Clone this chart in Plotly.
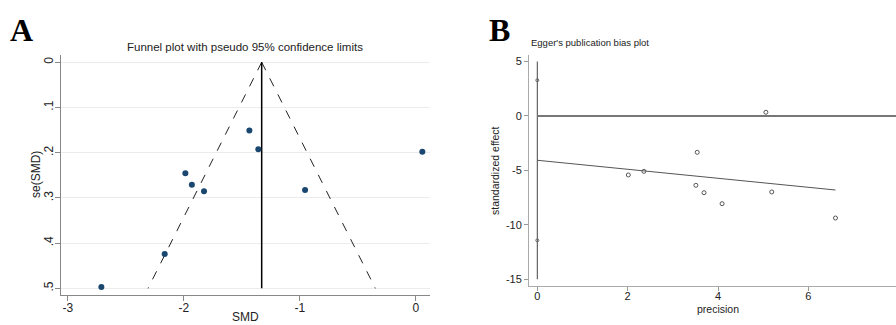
import plotly.graph_objects as go

# ---- Panel A: funnel plot data ----
smd = [-2.71, -2.164, -1.986, -1.93, -1.825, -1.434, -1.357, -0.954, 0.057]
se_smd = [0.497, 0.424, 0.2456, 0.271, 0.285, 0.151, 0.1925, 0.2825, 0.198]
pooled_smd = -1.328
funnel_se = [0.0, 0.5]
a_yticks = [0, 0.1, 0.2, 0.3, 0.4, 0.5]
a_yticklabels = ["0", ".1", ".2", ".3", ".4", ".5"]
a_xticks = [-3, -2, -1, 0]
a_xticklabels = ["-3", "-2", "-1", "0"]

# ---- Panel B: Egger plot data ----
egger_precision = [2.015, 2.36, 3.54, 3.51, 3.69, 4.09, 5.06, 5.19, 6.60]
egger_effect = [-5.42, -5.09, -3.34, -6.37, -7.05, -8.06, 0.34, -6.98, -9.375]
intercept_ci = [3.28, -11.43]
intercept_bar = [-15, 5]
reg_intercept = -4.07
reg_slope = -0.414
reg_x = [0.0, 6.60]
b_xticks = [0, 2, 4, 6, 8]
b_xticklabels = ["0", "2", "4", "6", "8"]
b_yticks = [5, 0, -5, -10, -15]
b_yticklabels = ["5", "0", "-5", "-10", "-15"]

FONT = "Liberation Sans, Arial, sans-serif"
W, H = 896, 325

def px(x):
    return x / W

def py(y):
    return 1 - y / H

fig = go.Figure()

# Panel A traces
left_x = [pooled_smd - 1.96 * s for s in funnel_se]
right_x = [pooled_smd + 1.96 * s for s in funnel_se]
fig.add_trace(go.Scatter(x=left_x, y=funnel_se, mode="lines",
                         line=dict(color="#222222", width=1, dash="dash"),
                         xaxis="x", yaxis="y", hoverinfo="skip"))
fig.add_trace(go.Scatter(x=right_x, y=funnel_se, mode="lines",
                         line=dict(color="#222222", width=1, dash="dash"),
                         xaxis="x", yaxis="y", hoverinfo="skip"))
fig.add_trace(go.Scatter(x=[pooled_smd, pooled_smd], y=funnel_se, mode="lines",
                         line=dict(color="#000000", width=1.5),
                         xaxis="x", yaxis="y", hoverinfo="skip"))
fig.add_trace(go.Scatter(x=smd, y=se_smd, mode="markers",
                         marker=dict(color="#1a476f", size=6),
                         xaxis="x", yaxis="y"))

# Panel B traces
fig.add_trace(go.Scatter(x=[0, 0], y=intercept_bar, mode="lines",
                         line=dict(color="#444444", width=1),
                         xaxis="x2", yaxis="y2", hoverinfo="skip"))
fig.add_trace(go.Scatter(x=[0, 8.2], y=[0, 0], mode="lines",
                         line=dict(color="#777777", width=2),
                         xaxis="x2", yaxis="y2", hoverinfo="skip"))
fig.add_trace(go.Scatter(x=reg_x, y=[reg_intercept + reg_slope * v for v in reg_x],
                         mode="lines", line=dict(color="#555555", width=1),
                         xaxis="x2", yaxis="y2", hoverinfo="skip"))
fig.add_trace(go.Scatter(x=[0, 0], y=intercept_ci, mode="markers",
                         marker=dict(symbol="circle-open", color="#666666", size=3),
                         xaxis="x2", yaxis="y2"))
fig.add_trace(go.Scatter(x=egger_precision, y=egger_effect, mode="markers",
                         marker=dict(symbol="circle-open", color="#555555", size=4,
                                     line=dict(width=1)),
                         xaxis="x2", yaxis="y2"))

axis_a = dict(showline=True, linecolor="#888888", linewidth=1, ticks="outside",
              ticklen=5, tickcolor="#888888", zeroline=False,
              tickfont=dict(family=FONT, size=12, color="#222222"))
axis_b = dict(showline=True, linecolor="#aaaaaa", linewidth=1, ticks="outside",
              ticklen=4, tickcolor="#999999", zeroline=False,
              tickfont=dict(family=FONT, size=11, color="#222222"))

fig.update_layout(
    width=W, height=H, margin=dict(l=0, r=0, t=0, b=0),
    paper_bgcolor="white", plot_bgcolor="white", showlegend=False,
    xaxis=dict(domain=[px(61), px(430)], range=[-3.058, 0.123],
               tickvals=a_xticks, ticktext=a_xticklabels, showgrid=False,
               anchor="y", ticklabelstandoff=-3, **axis_a),
    yaxis=dict(domain=[py(294.7), py(55)], range=[0.514, -0.016],
               tickvals=a_yticks, ticktext=a_yticklabels, tickangle=-90,
               showgrid=True, gridcolor="#ececec", gridwidth=1, anchor="x",
               ticklabelstandoff=-3, **axis_a),
    xaxis2=dict(domain=[px(529), 1.0], range=[-0.184, 7.94],
                tickvals=b_xticks, ticktext=b_xticklabels, showgrid=False,
                anchor="y2", ticklabelstandoff=-4, **axis_b),
    yaxis2=dict(domain=[py(286), py(55)], range=[-15.62, 5.6],
                tickvals=b_yticks, ticktext=b_yticklabels, showgrid=False,
                anchor="x2", **axis_b),
)

ann = [
    dict(text="<b>A</b>", x=px(8), y=py(10), xanchor="left", yanchor="top",
         font=dict(family="Liberation Serif, Times New Roman, serif", size=32, color="black")),
    dict(text="<b>B</b>", x=px(487), y=py(10), xanchor="left", yanchor="top",
         font=dict(family="Liberation Serif, Times New Roman, serif", size=32, color="black")),
    dict(text="Funnel plot with pseudo 95% confidence limits", x=px(245), y=py(47),
         xanchor="center", yanchor="middle", font=dict(family=FONT, size=11.5, color="#222222")),
    dict(text="SMD", x=px(245), y=py(317), xanchor="center", yanchor="middle",
         font=dict(family=FONT, size=12, color="#222222")),
    dict(text="se(SMD)", x=px(36), y=py(175), xanchor="center", yanchor="middle",
         textangle=-90, font=dict(family=FONT, size=12, color="#222222")),
    dict(text="Egger's publication bias plot", x=px(529), y=py(42), xanchor="left",
         yanchor="middle", font=dict(family=FONT, size=9.5, color="#222222")),
    dict(text="precision", x=px(718), y=py(309), xanchor="center", yanchor="middle",
         font=dict(family=FONT, size=10.5, color="#222222")),
    dict(text="standardized effect", x=px(495), y=py(170), xanchor="center",
         yanchor="middle", textangle=-90, font=dict(family=FONT, size=10.5, color="#222222")),
]
for a in ann:
    a.update(xref="paper", yref="paper", showarrow=False)
fig.update_layout(annotations=ann)

fig.write_html("out.html")
